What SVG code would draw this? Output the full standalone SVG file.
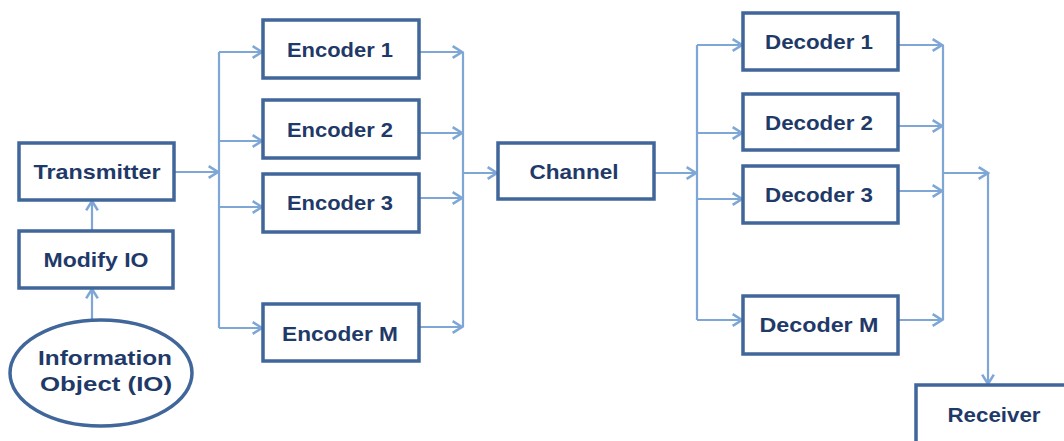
<svg xmlns="http://www.w3.org/2000/svg" width="1064" height="441" viewBox="0 0 1064 441">
<style>
.box{fill:#ffffff;stroke:#41669A;stroke-width:3.5}
.lbl{font-family:"Liberation Sans",Arial,sans-serif;font-weight:bold;font-size:21px;fill:#1F3A68;text-anchor:middle}
.c{stroke:#7FA7D6;stroke-width:2.2;fill:none}
.ca{stroke:#7FA7D6;stroke-width:2.2;fill:none;marker-end:url(#ah)}
</style>
<defs>
<marker id="ah" markerUnits="userSpaceOnUse" markerWidth="14" markerHeight="14" viewBox="0 0 12 12" refX="10" refY="6" orient="auto">
<path d="M2,1 L10,6 L2,11" fill="none" stroke="#7FA7D6" stroke-width="2.2"/>
</marker>
</defs>
<rect width="1064" height="441" fill="#ffffff"/>
<g id="connectors">
<line class="ca" x1="92" y1="320" x2="92" y2="289"/>
<line class="ca" x1="92" y1="230" x2="92" y2="201"/>
<line class="ca" x1="174" y1="172" x2="218" y2="172"/>
<line class="c" x1="219" y1="52" x2="219" y2="328"/>
<line class="ca" x1="219" y1="52" x2="262" y2="52"/>
<line class="ca" x1="219" y1="141" x2="262" y2="141"/>
<line class="ca" x1="219" y1="207" x2="262" y2="207"/>
<line class="ca" x1="219" y1="328" x2="262" y2="328"/>
<line class="ca" x1="419" y1="52" x2="462" y2="52"/>
<line class="ca" x1="419" y1="133" x2="462" y2="133"/>
<line class="ca" x1="419" y1="198" x2="462" y2="198"/>
<line class="ca" x1="419" y1="327" x2="462" y2="327"/>
<line class="c" x1="463" y1="52" x2="463" y2="327"/>
<line class="ca" x1="463" y1="173" x2="497" y2="173"/>
<line class="ca" x1="654" y1="173" x2="696" y2="173"/>
<line class="c" x1="697" y1="45" x2="697" y2="320"/>
<line class="ca" x1="697" y1="45" x2="742" y2="45"/>
<line class="ca" x1="697" y1="133" x2="742" y2="133"/>
<line class="ca" x1="697" y1="199" x2="742" y2="199"/>
<line class="ca" x1="697" y1="320" x2="742" y2="320"/>
<line class="ca" x1="898" y1="45" x2="942" y2="45"/>
<line class="ca" x1="898" y1="126" x2="942" y2="126"/>
<line class="ca" x1="898" y1="191" x2="942" y2="191"/>
<line class="ca" x1="898" y1="320" x2="942" y2="320"/>
<line class="c" x1="943" y1="45" x2="943" y2="320"/>
<line class="ca" x1="943" y1="173" x2="988" y2="173"/>
<line class="ca" x1="988" y1="173" x2="988" y2="384"/>
</g>
<g id="io">
<ellipse cx="101" cy="373" rx="91" ry="53" fill="#ffffff" stroke="#41669A" stroke-width="3.5"/>
<text class="lbl" x="105" y="365" textLength="134" lengthAdjust="spacingAndGlyphs">Information</text>
<text class="lbl" x="106" y="391" textLength="132" lengthAdjust="spacingAndGlyphs">Object (IO)</text>
</g>
<g id="modify">
<rect class="box" x="19" y="231" width="154" height="57"/>
<text class="lbl" x="96" y="267" textLength="105" lengthAdjust="spacingAndGlyphs">Modify IO</text>
</g>
<g id="transmitter">
<rect class="box" x="19" y="143" width="155" height="57"/>
<text class="lbl" x="97" y="179" textLength="127" lengthAdjust="spacingAndGlyphs">Transmitter</text>
</g>
<g id="enc1">
<rect class="box" x="263" y="20" width="156" height="58"/>
<text class="lbl" x="340" y="57" textLength="106" lengthAdjust="spacingAndGlyphs">Encoder 1</text>
</g>
<g id="enc2">
<rect class="box" x="263" y="100" width="156" height="58"/>
<text class="lbl" x="340" y="137" textLength="106" lengthAdjust="spacingAndGlyphs">Encoder 2</text>
</g>
<g id="enc3">
<rect class="box" x="263" y="174" width="156" height="58"/>
<text class="lbl" x="340" y="210" textLength="106" lengthAdjust="spacingAndGlyphs">Encoder 3</text>
</g>
<g id="encM">
<rect class="box" x="263" y="304" width="156" height="57"/>
<text class="lbl" x="340" y="341" textLength="116" lengthAdjust="spacingAndGlyphs">Encoder M</text>
</g>
<g id="channel">
<rect class="box" x="498" y="143" width="156" height="56"/>
<text class="lbl" x="574" y="179" textLength="89" lengthAdjust="spacingAndGlyphs">Channel</text>
</g>
<g id="dec1">
<rect class="box" x="743" y="13" width="155" height="57"/>
<text class="lbl" x="819" y="49" textLength="108" lengthAdjust="spacingAndGlyphs">Decoder 1</text>
</g>
<g id="dec2">
<rect class="box" x="743" y="94" width="155" height="56"/>
<text class="lbl" x="819" y="130" textLength="108" lengthAdjust="spacingAndGlyphs">Decoder 2</text>
</g>
<g id="dec3">
<rect class="box" x="743" y="166" width="155" height="57"/>
<text class="lbl" x="819" y="202" textLength="108" lengthAdjust="spacingAndGlyphs">Decoder 3</text>
</g>
<g id="decM">
<rect class="box" x="743" y="296" width="155" height="58"/>
<text class="lbl" x="819" y="332" textLength="119" lengthAdjust="spacingAndGlyphs">Decoder M</text>
</g>
<g id="receiver">
<rect class="box" x="916" y="385" width="170" height="80"/>
<text class="lbl" x="994" y="422" textLength="93" lengthAdjust="spacingAndGlyphs">Receiver</text>
</g>
</svg>
